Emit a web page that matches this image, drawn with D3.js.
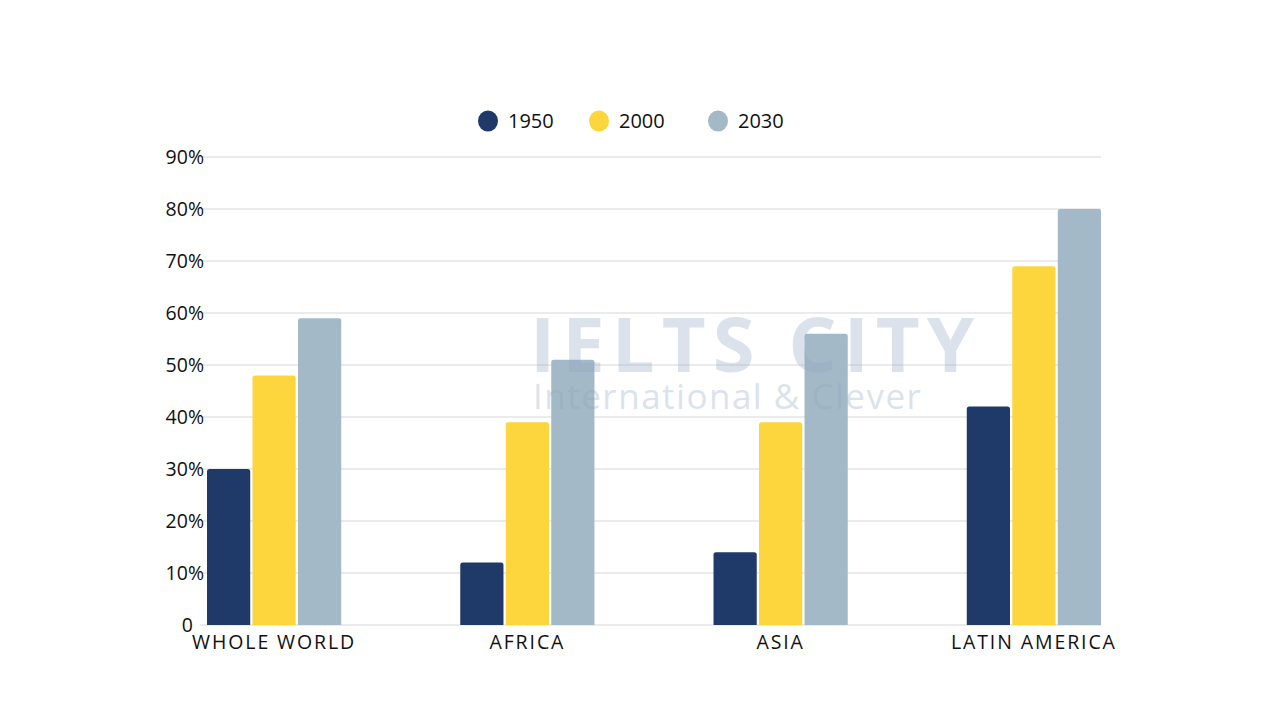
<!DOCTYPE html>
<html>
<head>
<meta charset="utf-8">
<script src="https://cdn.jsdelivr.net/npm/d3@7"></script>
<style>
  body { margin: 0; background: #fff; }
  text { font-family: "Open Sans", "DejaVu Sans", sans-serif; }
</style>
</head>
<body>
<svg></svg>
<script>
const svgWidth = 1280;
const svgHeight = 720;

// data
const categories = ["WHOLE WORLD", "AFRICA", "ASIA", "LATIN AMERICA"];
const years = ["1950", "2000", "2030"];
const values1950 = [30, 12, 14, 42];
const values2000 = [48, 39, 39, 69];
const values2030 = [59, 51, 56, 80];
const yTicks = [0, 10, 20, 30, 40, 50, 60, 70, 80, 90];
const colors = ["#1f3a68", "#fdd63e", "#a4b9c7"];

const series = [values1950, values2000, values2030];

const svg = d3.select("svg")
    .attr("width", svgWidth)
    .attr("height", svgHeight);

const x0 = d3.scaleBand()
    .domain(categories)
    .range([207, 1101])
    .paddingInner(0.47)
    .paddingOuter(0);

const x1 = d3.scaleBand()
    .domain(years)
    .range([0, x0.bandwidth()])
    .paddingInner(0.05);

const y = d3.scaleLinear()
    .domain([0, 90])
    .range([625, 157]);

// gridlines
svg.append("g")
    .selectAll("line")
    .data(yTicks)
    .join("line")
    .attr("x1", 200)
    .attr("x2", 1101)
    .attr("y1", d => y(d))
    .attr("y2", d => y(d))
    .attr("stroke", "#e4e4e4")
    .attr("stroke-width", 1.5);

// y labels
svg.append("g")
    .selectAll("text")
    .data(yTicks)
    .join("text")
    .attr("x", d => d === 0 ? 193 : 204)
    .attr("y", d => y(d))
    .attr("dy", "0.35em")
    .attr("text-anchor", "end")
    .attr("font-size", 19.5)
    .attr("fill", "#111")
    .text(d => d === 0 ? "0" : d + "%");

// bars
const groups = svg.append("g")
    .selectAll("g")
    .data(categories)
    .join("g")
    .attr("transform", d => "translate(" + x0(d) + ",0)");

groups.selectAll("path")
    .data((d, i) => years.map((yr, j) => ({year: yr, value: series[j][i], color: colors[j]})))
    .join("path")
    .attr("fill", d => d.color)
    .attr("d", d => {
        const bx = x1(d.year), bw = x1.bandwidth();
        const top = y(d.value), bottom = y(0), r = 2.5;
        return "M" + bx + "," + bottom +
            "V" + (top + r) +
            "Q" + bx + "," + top + " " + (bx + r) + "," + top +
            "H" + (bx + bw - r) +
            "Q" + (bx + bw) + "," + top + " " + (bx + bw) + "," + (top + r) +
            "V" + bottom + "Z";
    });

// category labels
svg.append("g")
    .selectAll("text")
    .data(categories)
    .join("text")
    .attr("x", d => x0(d) + x0.bandwidth() / 2)
    .attr("y", 649)
    .attr("text-anchor", "middle")
    .attr("font-size", 19.5)
    .attr("letter-spacing", 1.9)
    .attr("fill", "#111")
    .text(d => d);

// legend
const legendX = [488, 599, 718];
const legend = svg.append("g")
    .selectAll("g")
    .data(years)
    .join("g")
    .attr("transform", (d, i) => "translate(" + legendX[i] + ",121)");

legend.append("ellipse")
    .attr("rx", 10)
    .attr("ry", 10.5)
    .attr("fill", (d, i) => colors[i]);

legend.append("text")
    .attr("x", 20)
    .attr("dy", "0.35em")
    .attr("font-size", 20)
    .attr("fill", "#111")
    .text(d => d);

// faint watermark (one text element, two lines)
const wm = svg.append("text")
    .attr("opacity", 0.3)
    .attr("fill", "#8fa3bf");
wm.append("tspan")
    .attr("x", 530)
    .attr("y", 372)
    .attr("font-size", 76)
    .attr("font-weight", "bold")
    .attr("letter-spacing", 7)
    .text("IELTS CITY");
wm.append("tspan")
    .attr("x", 533)
    .attr("y", 409)
    .attr("font-size", 35)
    .attr("letter-spacing", 1.5)
    .text("International & Clever");
</script>
</body>
</html>
